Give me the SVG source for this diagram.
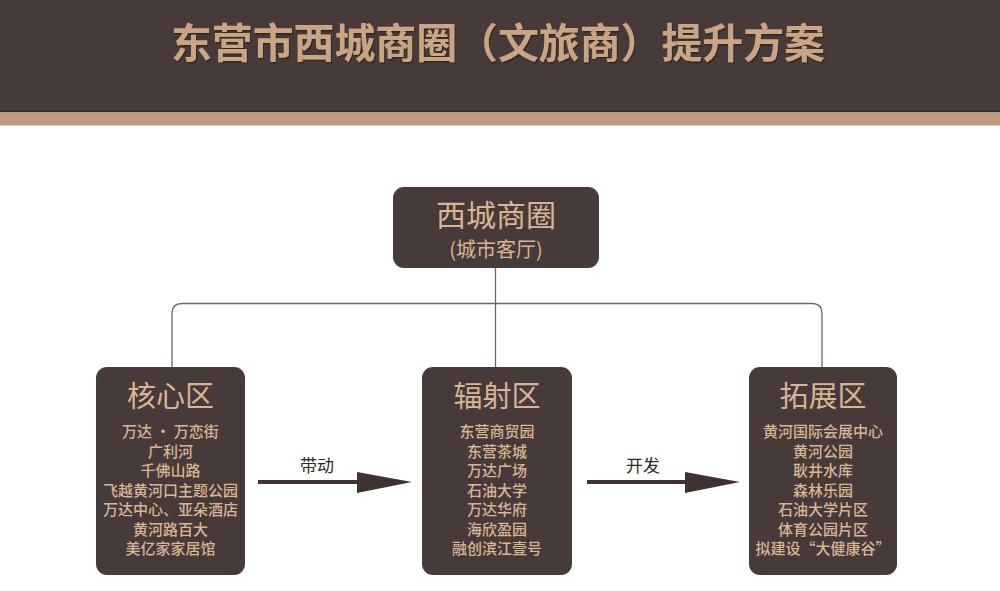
<svg xmlns="http://www.w3.org/2000/svg" width="1000" height="591" viewBox="0 0 1000 591">
<defs>
<style>
.box{fill:#463b38;}
.cjk{font-family:"Noto Sans CJK SC","Noto Sans",sans-serif;text-anchor:middle;}
.ttl{fill:#d8b594;font-size:29px;}
.item{fill:#d8b594;font-size:15px;font-weight:500;}
.conn{fill:none;stroke:#6e6663;stroke-width:1.3;}
.arrow{stroke:#3e3331;stroke-width:4;}
.lbl{fill:#2f2826;font-size:17px;}
</style>
<filter id="sh" x="-5%" y="-20%" width="110%" height="140%">
<feDropShadow dx="1" dy="1.5" stdDeviation="0.6" flood-color="#2a211f" flood-opacity="0.8"/>
</filter>
</defs>
<rect x="0" y="0" width="1000" height="591" fill="#ffffff"/>
<g id="header">
<rect x="0" y="0" width="1000" height="112" fill="#463b38"/>
<rect x="0" y="110.5" width="1000" height="2" fill="#2e2624"/>
<rect x="0" y="112.5" width="1000" height="13" fill="#bd9b7c"/>
<text x="498" y="58" class="cjk" font-size="41" font-weight="700" fill="#c9a585" filter="url(#sh)" textLength="654" lengthAdjust="spacingAndGlyphs">东营市西城商圈（文旅商）提升方案</text>
</g>
<g id="connectors">
<path class="conn" d="M495.5,268 V367"/>
<path class="conn" d="M172,367 V313 Q172,303.5 182,303.5 H812 Q822,303.5 822,313 V367"/>
<line class="arrow" x1="258" y1="482" x2="360" y2="482"/>
<polygon points="357,472 412,482 357,493" fill="#3e3331"/>
<line class="arrow" x1="587" y1="482" x2="688" y2="482"/>
<polygon points="685,472 740,482 685,493" fill="#3e3331"/>
<text x="317" y="472" class="cjk lbl">带动</text>
<text x="643" y="472" class="cjk lbl">开发</text>
</g>
<g id="node-top">
<rect class="box" x="393" y="187" width="206" height="81" rx="11"/>
<text x="496" y="226" class="cjk" font-size="30" fill="#d8b594">西城商圈</text>
<text x="496" y="257" class="cjk" font-size="20" fill="#d8b594">(城市客厅)</text>
</g>
<g id="node-core">
<rect class="box" x="96" y="367" width="149" height="208" rx="11"/>
<text x="170.5" y="407" class="cjk ttl">核心区</text>
<text x="170.5" y="437" class="cjk item">万达 · 万恋街</text>
<text x="170.5" y="456.5" class="cjk item">广利河</text>
<text x="170.5" y="476" class="cjk item">千佛山路</text>
<text x="170.5" y="495.5" class="cjk item">飞越黄河口主题公园</text>
<text x="170.5" y="515" class="cjk item">万达中心、亚朵酒店</text>
<text x="170.5" y="534.5" class="cjk item">黄河路百大</text>
<text x="170.5" y="554" class="cjk item">美亿家家居馆</text>
</g>
<g id="node-radiate">
<rect class="box" x="422" y="367" width="150" height="208" rx="11"/>
<text x="497" y="407" class="cjk ttl">辐射区</text>
<text x="497" y="437" class="cjk item">东营商贸园</text>
<text x="497" y="456.5" class="cjk item">东营茶城</text>
<text x="497" y="476" class="cjk item">万达广场</text>
<text x="497" y="495.5" class="cjk item">石油大学</text>
<text x="497" y="515" class="cjk item">万达华府</text>
<text x="497" y="534.5" class="cjk item">海欣盈园</text>
<text x="497" y="554" class="cjk item">融创滨江壹号</text>
</g>
<g id="node-expand">
<rect class="box" x="749" y="367" width="148" height="208" rx="11"/>
<text x="823" y="407" class="cjk ttl">拓展区</text>
<text x="823" y="437" class="cjk item">黄河国际会展中心</text>
<text x="823" y="456.5" class="cjk item">黄河公园</text>
<text x="823" y="476" class="cjk item">耿井水库</text>
<text x="823" y="495.5" class="cjk item">森林乐园</text>
<text x="823" y="515" class="cjk item">石油大学片区</text>
<text x="823" y="534.5" class="cjk item">体育公园片区</text>
<text x="823" y="554" class="cjk item">拟建设“大健康谷”</text>
</g>
</svg>
